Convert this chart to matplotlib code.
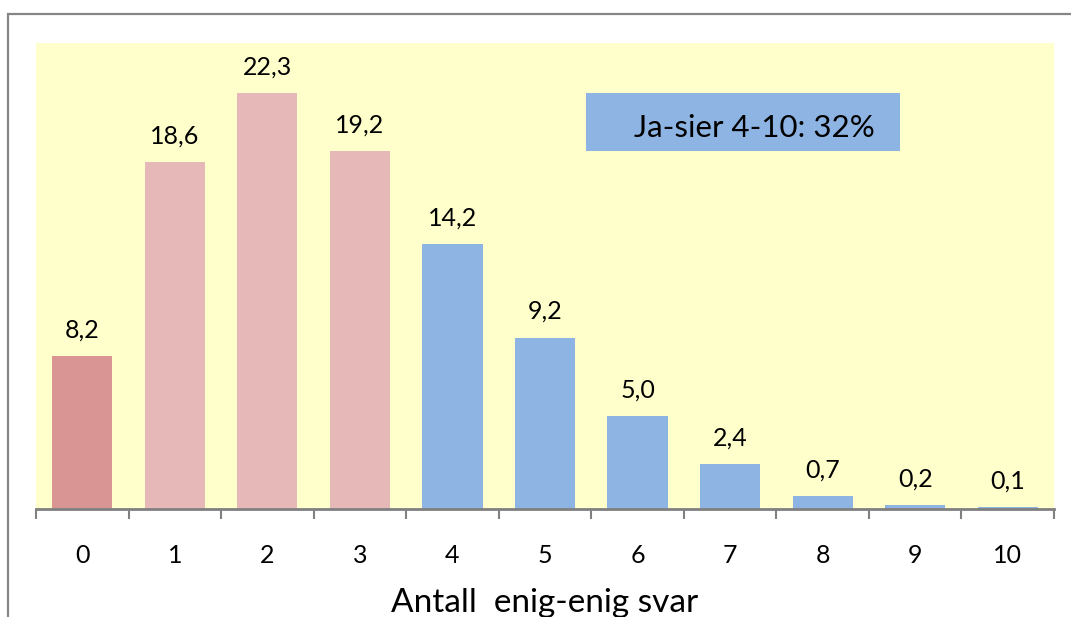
import matplotlib.pyplot as plt
import matplotlib.patches as patches

plt.rcParams['font.family'] = ['Lato', 'DejaVu Sans']

# data
categories = ['0', '1', '2', '3', '4', '5', '6', '7', '8', '9', '10']
values = [8.2, 18.6, 22.3, 19.2, 14.2, 9.2, 5.0, 2.4, 0.7, 0.2, 0.1]
value_labels = ['8,2', '18,6', '22,3', '19,2', '14,2', '9,2', '5,0', '2,4', '0,7', '0,2', '0,1']
colours = ['#D99594'] + ['#E6B9B8'] * 3 + ['#8EB4E3'] * 7

fig = plt.figure(figsize=(10.71, 6.17), dpi=100)
ax = fig.add_axes([36 / 1071, 1 - 509 / 617, 1018 / 1071, 466 / 617])
ax.set_facecolor('#FFFFCC')

x = list(range(len(categories)))
ax.bar(x, values, width=0.65, color=colours, zorder=2)

for xi, v, lab in zip(x, values, value_labels):
    ax.annotate(lab, (xi, v), xytext=(0, 26), textcoords='offset pixels',
                ha='center', va='center', fontsize=18)

ax.set_xlim(-0.5, 10.5)
ax.set_ylim(0, 25)
ax.set_yticks([])
ax.set_xticks(x)
ax.set_xticklabels(categories, fontsize=18)
ax.set_xticks([i - 0.5 for i in range(12)], minor=True)
ax.tick_params(axis='x', which='major', length=0, pad=25)
ax.tick_params(axis='x', which='minor', length=7, width=1.5, color='#808080', direction='out')
ax.set_xlabel('Antall  enig-enig svar', fontsize=24, labelpad=15)

for side in ['top', 'right', 'left']:
    ax.spines[side].set_visible(False)
ax.spines['bottom'].set_color('#808080')
ax.spines['bottom'].set_linewidth(2)

# text box
ax.add_patch(patches.Rectangle((0.540, 0.768), 0.309, 0.125, transform=ax.transAxes,
                               facecolor='#8EB4E3', edgecolor='none', zorder=3))
ax.text(0.706, 0.818, 'Ja-sier 4-10: 32%', transform=ax.transAxes, fontsize=22.5,
        ha='center', va='center', zorder=4)

# outer border
fig.patches.append(patches.Rectangle((7.5 / 1071, -0.1), 1.2, (617 - 13.5) / 617 + 0.1,
                                     transform=fig.transFigure, fill=False,
                                     edgecolor='#868686', linewidth=1.6))

fig.savefig('out.png', dpi=100)
